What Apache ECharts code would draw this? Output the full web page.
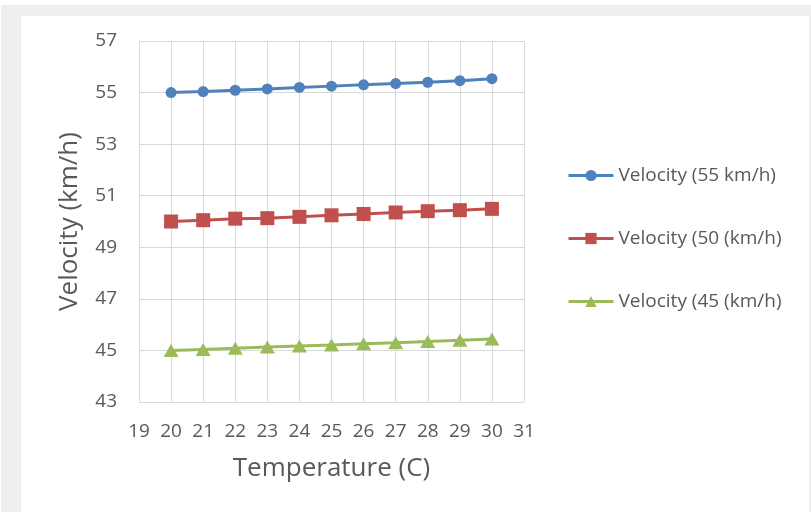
<!DOCTYPE html>
<html>
<head>
<meta charset="utf-8">
<script src="https://cdn.jsdelivr.net/npm/echarts@6/dist/echarts.min.js"></script>
<style>
  html, body { margin: 0; padding: 0; background: #ffffff; }
  #frame { position: absolute; left: 1px; top: 5px; width: 810px; height: 507px; background: #efefef; }
  #chart { position: absolute; left: 21px; top: 16px; width: 788px; height: 496px; background: #ffffff; }
</style>
</head>
<body>
<div id="frame"></div>
<div id="chart"></div>
<script>
// Temperature in degrees C
const temperatures = [20, 21, 22, 23, 24, 25, 26, 27, 28, 29, 30];
// Velocity readings (km/h) for the three nominal speeds
const velocity55 = [55.00, 55.04, 55.09, 55.14, 55.20, 55.25, 55.30, 55.35, 55.40, 55.46, 55.54];
const velocity50 = [50.00, 50.05, 50.11, 50.13, 50.18, 50.24, 50.29, 50.35, 50.40, 50.44, 50.49];
const velocity45 = [45.00, 45.04, 45.08, 45.13, 45.17, 45.21, 45.26, 45.30, 45.35, 45.39, 45.44];
const seriesNames = ['Velocity (55 km/h)', 'Velocity (50 (km/h)', 'Velocity (45 (km/h)'];
const xAxisTitle = 'Temperature (C)';
const yAxisTitle = 'Velocity (km/h)';

const pairs = vals => temperatures.map((t, i) => [t, vals[i]]);

const textColor = '#595959';
const gridColor = '#d9d9d9';
const fontFamily = '"Open Sans", "DejaVu Sans", sans-serif';

const chart = echarts.init(document.getElementById('chart'), null, { renderer: 'canvas' });

chart.setOption({
  animation: false,
  backgroundColor: '#ffffff',
  textStyle: { fontFamily: fontFamily, color: textColor },
  grid: { left: 118, top: 25, width: 385, height: 361, containLabel: false },
  legend: {
    orient: 'vertical',
    left: 541,
    top: 145,
    itemWidth: 45,
    itemHeight: 14,
    itemGap: 44,
    lineStyle: { width: 3 },
    textStyle: { fontFamily: fontFamily, fontSize: 19, color: textColor },
    data: seriesNames
  },
  xAxis: {
    type: 'value',
    min: 19,
    max: 31,
    interval: 1,
    name: xAxisTitle,
    nameLocation: 'middle',
    nameGap: 54,
    nameTextStyle: { fontFamily: fontFamily, fontSize: 26, color: textColor },
    axisLine: { show: true, lineStyle: { color: gridColor, width: 1 } },
    axisTick: { show: false },
    axisLabel: { margin: 20, fontSize: 19, color: textColor, fontFamily: fontFamily },
    splitLine: { show: true, lineStyle: { color: gridColor, width: 1 } }
  },
  yAxis: {
    type: 'value',
    min: 43,
    max: 57,
    interval: 2,
    name: yAxisTitle,
    nameLocation: 'middle',
    nameRotate: 90,
    nameGap: 56,
    nameTextStyle: { fontFamily: fontFamily, fontSize: 26, color: textColor },
    axisLine: { show: true, lineStyle: { color: gridColor, width: 1 } },
    axisTick: { show: false },
    axisLabel: { margin: 22, fontSize: 19, color: textColor, fontFamily: fontFamily },
    splitLine: { show: true, lineStyle: { color: gridColor, width: 1 } }
  },
  series: [
    {
      name: seriesNames[0],
      type: 'line',
      data: pairs(velocity55),
      symbol: 'circle',
      symbolSize: 11,
      lineStyle: { color: '#4f81bd', width: 3 },
      itemStyle: { color: '#4f81bd' }
    },
    {
      name: seriesNames[1],
      type: 'line',
      data: pairs(velocity50),
      symbol: 'rect',
      symbolSize: 14,
      lineStyle: { color: '#c0504d', width: 3 },
      itemStyle: { color: '#c0504d' }
    },
    {
      name: seriesNames[2],
      type: 'line',
      data: pairs(velocity45),
      symbol: 'triangle',
      symbolSize: [15, 13],
      lineStyle: { color: '#9bbb59', width: 3 },
      itemStyle: { color: '#9bbb59' }
    }
  ]
});
</script>
</body>
</html>
